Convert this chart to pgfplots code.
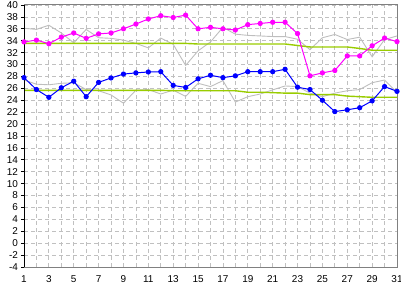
\documentclass[border=0pt]{standalone}
\usepackage{fontspec}
\setmainfont{Liberation Sans}
\usepackage{pgfplots}
\usepackage{pgfplotstable}
\pgfplotsset{compat=1.18}
\definecolor{gridgray}{RGB}{192,192,192}
\definecolor{framegray}{RGB}{128,128,128}
\definecolor{hiline}{RGB}{255,0,255}
\definecolor{loline}{RGB}{0,0,255}
\definecolor{normgreen}{RGB}{153,204,0}
\definecolor{oldgray}{RGB}{190,190,190}

\pgfplotstableread{
d hi lo ohi olo nhi nlo
1 33.8 27.8 36.1 27.4 33.55 25.67
2 34.1 25.8 35.9 26.7 33.55 25.67
3 33.5 24.5 36.6 26.6 33.55 25.67
4 34.6 26.1 35.3 26.85 33.55 25.67
5 35.3 27.2 33.65 26.95 33.55 25.67
6 34.4 24.6 35.9 25.8 33.55 25.67
7 35.15 27.0 34.5 25.6 33.55 25.67
8 35.3 27.75 34.4 24.9 33.55 25.67
9 36.0 28.4 34.1 23.5 33.55 25.67
10 36.8 28.6 33.55 25.7 33.55 25.67
11 37.65 28.75 32.8 25.8 33.55 25.67
12 38.2 28.8 34.45 25.05 33.55 25.67
13 37.9 26.5 33.4 25.7 33.55 25.6
14 38.3 26.15 29.85 24.65 33.55 25.6
15 36.0 27.6 32.3 26.85 33.45 25.6
16 36.25 28.2 33.8 26.3 33.45 25.6
17 36.0 27.8 36.25 27.3 33.45 25.6
18 35.8 28.1 35.1 23.7 33.45 25.6
19 36.7 28.8 34.9 24.6 33.45 25.35
20 36.9 28.8 34.8 25.05 33.45 25.35
21 37.1 28.8 34.7 25.75 33.45 25.28
22 37.1 29.2 34.7 26.4 33.45 25.2
23 35.2 26.2 34.25 26.3 33.2 25.2
24 28.1 25.8 32.5 25.2 32.95 24.95
25 28.6 24.0 34.5 24.6 32.95 24.95
26 29.0 22.1 35.05 25.2 32.95 24.95
27 31.45 22.4 34.2 25.6 32.95 24.7
28 31.45 22.75 34.6 25.8 32.7 24.6
29 33.15 23.9 31.3 26.95 32.4 24.5
30 34.45 26.3 34.2 27.4 32.4 24.5
31 33.85 25.5 34.8 25.3 32.4 24.5
}\datatable

\begin{document}
\begin{tikzpicture}
\path[use as bounding box] (-24bp,-20bp) rectangle (377bp,267bp);
\begin{axis}[
  at={(0,0)}, anchor=south west,
  scale only axis, width=373bp, height=262bp,
  xmin=1, xmax=31, ymin=-4, ymax=40,
  xtick={1,3,...,31}, minor xtick={2,4,...,30},
  ytick={-4,-2,...,40},
  grid=both,
  major grid style={gridgray, line width=0.8bp, dash pattern=on 4bp off 3bp},
  minor grid style={gridgray, line width=0.8bp, dash pattern=on 4bp off 3bp},
  axis line style={framegray, line width=1bp},
  ytick pos=left, xtick pos=bottom,
  ytick align=outside,
  major tick length=3bp,
  x tick style={draw=none},
  y tick style={black, line width=0.8bp},
  tick label style={font=\fontsize{10}{12}\selectfont, text=black},
  /pgf/number format/assume math mode=true,
  xticklabel style={yshift=-5bp},
  yticklabel style={xshift=0.5bp},
]
\addplot[oldgray, line width=0.9bp] table[x=d, y=ohi] {\datatable};
\addplot[oldgray, line width=0.9bp] table[x=d, y=olo] {\datatable};
\addplot[normgreen, line width=1.4bp] table[x=d, y=nhi] {\datatable};
\addplot[normgreen, line width=1.4bp] table[x=d, y=nlo] {\datatable};
\addplot[loline, line width=1bp, mark=*, mark size=2.1bp] table[x=d, y=lo] {\datatable};
\addplot[hiline, line width=1bp, mark=*, mark size=2.1bp] table[x=d, y=hi] {\datatable};
\draw[black, line width=1.2bp] (rel axis cs:0,0) -- (rel axis cs:0,1);
\end{axis}
\end{tikzpicture}
\end{document}
